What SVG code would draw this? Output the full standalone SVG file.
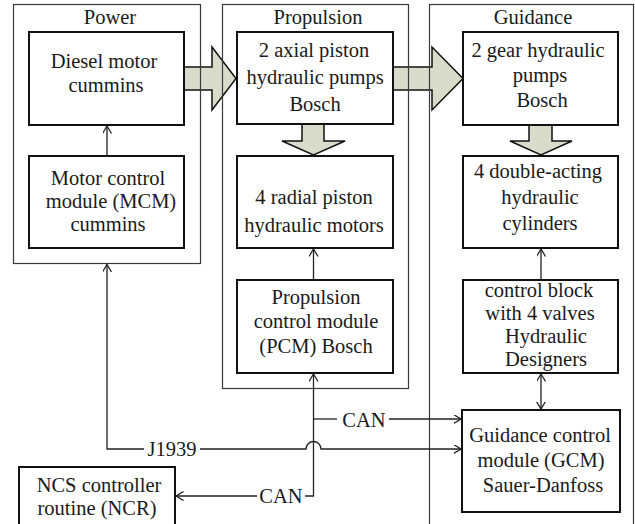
<svg xmlns="http://www.w3.org/2000/svg" width="635" height="524" viewBox="0 0 635 524" font-family="'Liberation Serif', 'Times New Roman', 'DejaVu Serif', serif">
<defs>
<style>
text{font-family:"Liberation Serif","Times New Roman","DejaVu Serif",serif;font-size:20.5px;fill:#1a1a1a;text-anchor:middle}
.title{font-size:20.5px}
.cont{fill:none;stroke:#3a3a3a;stroke-width:1.2}
.box{fill:#fff;stroke:#111;stroke-width:2}
.big{fill:#d9dcca;stroke:#111;stroke-width:1.5;stroke-linejoin:miter}
.ln{fill:none;stroke:#222;stroke-width:1.3}
</style>
<marker id="ah" viewBox="0 0 10 10" refX="7.5" refY="4.5" markerWidth="10" markerHeight="10" markerUnits="userSpaceOnUse" orient="auto-start-reverse">
<path d="M0,0 L7.5,4.5 L0,9" fill="none" stroke="#222" stroke-width="1.3"/>
</marker>
</defs>
<rect width="635" height="524" fill="#fff"/>

<g id="flow-arrows">
<polygon class="big" points="184,67 212,67 212,47 236,78.5 212,110 212,90 184,90"/>
<polygon class="big" points="393,67 432,67 432,47 463,78.5 432,110 432,90 393,90"/>
<polygon class="big" points="302,124 324,124 324,141 345,141 313.5,155 282,141 302,141"/>
<polygon class="big" points="529,125 552,125 552,141 572,141 541,155 510,141 529,141"/>
</g>

<g id="power">
<rect class="cont" x="13.5" y="4.5" width="187" height="259"/>
<text class="title" x="110" y="24">Power</text>
</g>
<g id="propulsion">
<rect class="cont" x="222.5" y="4.5" width="186" height="384"/>
<text class="title" x="318" y="24">Propulsion</text>
</g>
<g id="guidance">
<rect class="cont" x="429.5" y="4.5" width="204" height="530"/>
<text class="title" x="533" y="24">Guidance</text>
</g>

<g id="connectors">
<path class="ln" d="M107,156 V126" marker-end="url(#ah)"/>
<path class="ln" d="M313.5,280 V249" marker-end="url(#ah)"/>
<path class="ln" d="M541,280 V249" marker-end="url(#ah)"/>
<path class="ln" d="M541,374 V409" marker-start="url(#ah)" marker-end="url(#ah)"/>
<path class="ln" d="M107,264.5 V449 H144" marker-start="url(#ah)"/>
<path class="ln" d="M200,449 H306 A7.5,7.5 0 0 1 321,449 H461" marker-end="url(#ah)"/>
<path class="ln" d="M313.5,374 V496 H305" marker-start="url(#ah)"/>
<path class="ln" d="M257,496 H176" marker-end="url(#ah)"/>
<path class="ln" d="M313.5,419 H337"/>
<path class="ln" d="M389,419 H461" marker-end="url(#ah)"/>
<text x="172" y="456">J1939</text>
<text x="281" y="503">CAN</text>
<text x="364" y="426.5">CAN</text>
</g>

<g id="diesel">
<rect class="box" x="29" y="32" width="155" height="93"/>
<text x="104" y="68">Diesel motor</text>
<text x="106" y="92">cummins</text>
</g>
<g id="mcm">
<rect class="box" x="29" y="156" width="155" height="92"/>
<text x="108" y="185">Motor control</text>
<text x="111" y="208">module (MCM)</text>
<text x="108" y="231">cummins</text>
</g>
<g id="pumps">
<rect class="box" x="237" y="32" width="156" height="92"/>
<text x="314" y="57">2 axial piston</text>
<text x="315" y="84">hydraulic pumps</text>
<text x="315" y="111">Bosch</text>
</g>
<g id="motors">
<rect class="box" x="237" y="156" width="156" height="92"/>
<text x="314" y="204">4 radial piston</text>
<text x="314" y="232">hydraulic motors</text>
</g>
<g id="pcm">
<rect class="box" x="237" y="280" width="156" height="93"/>
<text x="316" y="304">Propulsion</text>
<text x="316" y="328">control module</text>
<text x="316" y="353">(PCM) Bosch</text>
</g>
<g id="gear-pumps">
<rect class="box" x="463" y="32" width="155" height="93"/>
<text x="538" y="57">2 gear hydraulic</text>
<text x="540" y="82">pumps</text>
<text x="542" y="107">Bosch</text>
</g>
<g id="cylinders">
<rect class="box" x="463" y="156" width="155" height="92"/>
<text x="538" y="178">4 double-acting</text>
<text x="540" y="204">hydraulic</text>
<text x="540" y="230">cylinders</text>
</g>
<g id="control-block">
<rect class="box" x="463" y="280" width="155" height="93"/>
<text x="539" y="297">control block</text>
<text x="540" y="320">with 4 valves</text>
<text x="546" y="343">Hydraulic</text>
<text x="546" y="366">Designers</text>
</g>
<g id="gcm">
<rect class="box" x="462" y="410" width="158" height="102"/>
<text x="540" y="442">Guidance control</text>
<text x="541" y="467">module (GCM)</text>
<text x="543" y="492">Sauer-Danfoss</text>
</g>
<g id="ncr">
<rect class="box" x="19" y="467" width="156" height="70"/>
<text x="99" y="492">NCS controller</text>
<text x="97" y="515">routine (NCR)</text>
</g>
</svg>
